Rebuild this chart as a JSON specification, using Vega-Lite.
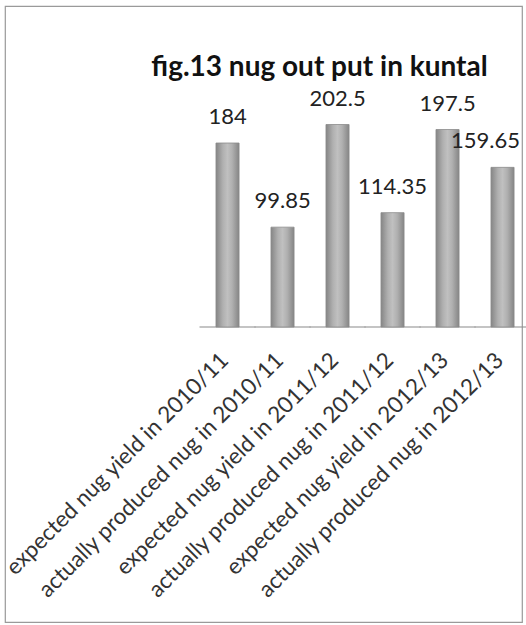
{
  "$schema": "https://vega.github.io/schema/vega-lite/v6.json",
  "width": 517,
  "height": 616,
  "autosize": {"type": "none"},
  "padding": {"left": 5, "top": 6, "right": 4, "bottom": 3},
  "background": "white",
  "config": {"view": {"stroke": "#9a9a9a", "strokeWidth": 1.2}, "font": "Lato"},
  "title": {
    "text": "fig.13 nug out put in kuntal",
    "font": "Lato",
    "fontSize": 28,
    "fontWeight": "bold",
    "color": "#111111",
    "anchor": "middle",
    "baseline": "alphabetic",
    "offset": -98,
    "dx": 56
  },
  "data": {
    "values": [
      {"category": "expected nug yield in 2010/11", "value": 184},
      {"category": "actually produced nug in 2010/11", "value": 99.85},
      {"category": "expected nug yield in 2011/12", "value": 202.5},
      {"category": "actually produced nug in 2011/12", "value": 114.35},
      {"category": "expected nug yield in 2012/13", "value": 197.5},
      {"category": "actually produced nug in 2012/13", "value": 159.65}
    ]
  },
  "encoding": {
    "x": {
      "field": "category",
      "type": "nominal",
      "sort": null,
      "axis": null,
      "scale": {
        "domain": [" ", "  ", "   ",
          "expected nug yield in 2010/11",
          "actually produced nug in 2010/11",
          "expected nug yield in 2011/12",
          "actually produced nug in 2011/12",
          "expected nug yield in 2012/13",
          "actually produced nug in 2012/13"],
        "paddingInner": 0.58,
        "paddingOuter": 0.49,
        "align": 0.853
      }
    }
  },
  "layer": [
    {
      "mark": {"type": "tick", "size": 56, "thickness": 1.3, "color": "#8f8f8f"},
      "encoding": {
        "y": {"datum": 0, "type": "quantitative", "scale": {"domain": [-295, 321], "nice": false, "zero": false}, "axis": null}
      }
    },
    {
      "mark": {
        "type": "bar",
        "stroke": "#8c8c8c",
        "strokeWidth": 0.8,
        "color": {
          "gradient": "linear",
          "x1": 0, "y1": 0, "x2": 1, "y2": 0,
          "stops": [
            {"offset": 0, "color": "#858585"},
            {"offset": 0.3, "color": "#b0b0b0"},
            {"offset": 0.5, "color": "#c0c0c0"},
            {"offset": 0.7, "color": "#b0b0b0"},
            {"offset": 1, "color": "#858585"}
          ]
        }
      },
      "encoding": {
        "y": {"field": "value", "type": "quantitative", "scale": {"domain": [-295, 321], "nice": false, "zero": false}, "axis": null},
        "y2": {"datum": 0}
      }
    },
    {
      "transform": [{"filter": "datum.value != 159.65"}],
      "mark": {"type": "text", "baseline": "alphabetic", "dy": -19, "fontSize": 22, "color": "#222222", "font": "Lato"},
      "encoding": {
        "y": {"field": "value", "type": "quantitative", "scale": {"domain": [-295, 321], "nice": false, "zero": false}, "axis": null},
        "text": {"field": "value", "type": "nominal"}
      }
    },
    {
      "transform": [{"filter": "datum.value == 159.65"}],
      "mark": {"type": "text", "baseline": "alphabetic", "dy": -19, "dx": -17, "fontSize": 22, "color": "#222222", "font": "Lato"},
      "encoding": {
        "y": {"field": "value", "type": "quantitative", "scale": {"domain": [-295, 321], "nice": false, "zero": false}, "axis": null},
        "text": {"field": "value", "type": "nominal"}
      }
    },
    {
      "mark": {"type": "text", "angle": -45, "align": "right", "baseline": "middle", "dx": -4, "fontSize": 22.5, "color": "#333333", "font": "Lato"},
      "encoding": {
        "y": {"datum": -27, "type": "quantitative", "scale": {"domain": [-295, 321], "nice": false, "zero": false}, "axis": null},
        "text": {"field": "category", "type": "nominal"}
      }
    }
  ]
}
